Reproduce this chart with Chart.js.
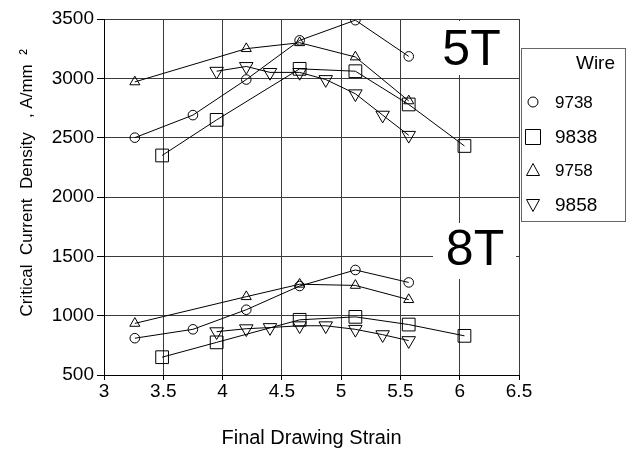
<!DOCTYPE html>
<html><head><meta charset="utf-8">
<script src="https://cdn.jsdelivr.net/npm/chart.js@4.4.0/dist/chart.umd.min.js"></script>
<style>html,body{margin:0;padding:0;background:#fff;}canvas{display:block;}</style>
</head><body>
<canvas id="c" width="629" height="449"></canvas>
<script>
// ---- data ----
const wires = ['9738', '9838', '9758', '9858'];
const fieldLabels = ['5T', '8T'];

const x9738 = [3.26, 3.75, 4.20, 4.65, 5.12, 5.57];
const y9738_5T = [2500, 2690, 2990, 3320, 3490, 3185];
const y9738_8T = [810, 885, 1050, 1250, 1385, 1280];

const x9838 = [3.49, 3.95, 4.65, 5.12, 5.57, 6.04];
const y9838_5T = [2350, 2650, 3080, 3060, 2780, 2430];
const y9838_8T = [650, 775, 965, 990, 925, 830];

const x9758 = [3.26, 4.20, 4.65, 5.12, 5.57];
const y9758_5T = [2970, 3250, 3300, 3180, 2810];
const y9758_8T = [935, 1160, 1265, 1255, 1135];

const x9858 = [3.95, 4.20, 4.40, 4.65, 4.87, 5.12, 5.35, 5.57];
const y9858_5T = [3060, 3100, 3050, 3050, 2990, 2870, 2690, 2520];
const y9858_8T = [865, 890, 900, 915, 915, 885, 840, 790];

const xTickLabels = ['3', '3.5', '4', '4.5', '5', '5.5', '6', '6.5'];
const yTickLabels = ['500', '1000', '1500', '2000', '2500', '3000', '3500'];

const xTitle = 'Final Drawing Strain';
const yTitle = '      Critical  Current  Density   , A/mm  \u00B2';

// ---- build ----
const pts = (xs, ys) => xs.map((x, i) => ({x: x, y: ys[i]}));
const styles = [
  {pointStyle: 'circle', pointRadius: 4.8, rot: 0},
  {pointStyle: 'rect', pointRadius: 9, rot: 0},
  {pointStyle: 'triangle', pointRadius: 5.8, rot: 0},
  {pointStyle: 'triangle', pointRadius: 7.8, rot: 180}
];
const series = [
  [x9738, y9738_5T, y9738_8T],
  [x9838, y9838_5T, y9838_8T],
  [x9758, y9758_5T, y9758_8T],
  [x9858, y9858_5T, y9858_8T]
];
const datasets = [];
series.forEach((s, i) => {
  [s[1], s[2]].forEach((ys, j) => {
    datasets.push({
      label: wires[i] + ' ' + fieldLabels[j],
      data: pts(s[0], ys),
      showLine: true,
      borderColor: '#000',
      borderWidth: 1,
      backgroundColor: 'rgba(0,0,0,0)',
      pointBackgroundColor: 'rgba(0,0,0,0)',
      pointBorderColor: '#000',
      pointBorderWidth: 1,
      pointStyle: styles[i].pointStyle,
      pointRadius: styles[i].pointRadius,
      pointRotation: styles[i].rot,
      pointHoverRadius: styles[i].pointRadius,
      tension: 0
    });
  });
});

const FONT = '"Liberation Sans", Arial, Helvetica, sans-serif';

const overlays = {
  id: 'overlays',
  beforeDatasetsDraw(chart) {
    const ctx = chart.ctx;
    ctx.save();
    ctx.fillStyle = '#fff';
    ctx.fillRect(425, 21, 92, 54);
    ctx.fillRect(433, 223, 83, 56);
    ctx.fillStyle = '#000';
    ctx.font = '50px ' + FONT;
    ctx.textAlign = 'center';
    ctx.textBaseline = 'alphabetic';
    ctx.fillText(fieldLabels[0], 471.5, 65);
    ctx.fillText(fieldLabels[1], 475, 265);
    ctx.restore();
  },
  afterDraw(chart) {
    const ctx = chart.ctx;
    ctx.save();
    // legend box
    ctx.fillStyle = '#fff';
    ctx.fillRect(521, 48, 105, 174);
    ctx.strokeStyle = '#666';
    ctx.lineWidth = 1;
    ctx.strokeRect(521.5, 48.5, 104, 173);
    ctx.fillStyle = '#000';
    ctx.textBaseline = 'middle';
    ctx.textAlign = 'right';
    ctx.font = '19px ' + FONT;
    ctx.fillText('Wire', 615, 64);
    ctx.textAlign = 'left';
    const ys = [102, 137, 170, 205];
    const sizes = [17, 19, 17, 19];
    ctx.strokeStyle = '#000';
    ctx.lineWidth = 1;
    ys.forEach((y, i) => {
      const cx = 533;
      ctx.beginPath();
      if (i === 0) {
        ctx.arc(cx, y, 5, 0, Math.PI * 2);
      } else if (i === 1) {
        ctx.rect(cx - 7.5, y - 7.5, 15, 15);
      } else if (i === 2) {
        ctx.moveTo(cx, y - 6.5); ctx.lineTo(cx + 6.5, y + 5.5); ctx.lineTo(cx - 6.5, y + 5.5); ctx.closePath();
      } else {
        ctx.moveTo(cx, y + 6.5); ctx.lineTo(cx + 6.5, y - 5.5); ctx.lineTo(cx - 6.5, y - 5.5); ctx.closePath();
      }
      ctx.stroke();
      ctx.font = sizes[i] + 'px ' + FONT;
      ctx.fillText(wires[i], 555, y + 1);
    });
    ctx.restore();
  }
};

new Chart(document.getElementById('c'), {
  type: 'scatter',
  data: {datasets: datasets},
  options: {
    responsive: false,
    animation: false,
    devicePixelRatio: 1,
    layout: {padding: {left: 0, top: 19, right: 110, bottom: 0}},
    plugins: {legend: {display: false}, tooltip: {enabled: false}},
    scales: {
      x: {
        type: 'linear', min: 3, max: 6.5,
        afterFit(s) { s.height = 74; },
        ticks: {
          stepSize: 0.5, padding: 0, color: '#000',
          font: {family: FONT, size: 19},
          callback: (v, i) => xTickLabels[i]
        },
        grid: {color: '#3a3a3a', lineWidth: 1, tickLength: 5, tickColor: '#000', drawTicks: true},
        border: {color: '#000', width: 1},
        title: {display: true, text: xTitle, color: '#000', font: {family: FONT, size: 20, lineHeight: 1}, padding: {top: 0, bottom: 1}}
      },
      y: {
        type: 'linear', min: 500, max: 3500,
        afterFit(s) { s.width = 104; },
        ticks: {
          stepSize: 500, padding: 3, color: '#000',
          font: {family: FONT, size: 19},
          callback: (v, i) => yTickLabels[i]
        },
        grid: {color: '#3a3a3a', lineWidth: 1, tickLength: 7, tickColor: '#000', drawTicks: true},
        border: {color: '#000', width: 1},
        title: {display: true, text: yTitle, color: '#000', font: {family: FONT, size: 17, lineHeight: 1}, padding: {top: 19, bottom: 0}}
      }
    }
  },
  plugins: [overlays]
});
</script>
</body></html>
